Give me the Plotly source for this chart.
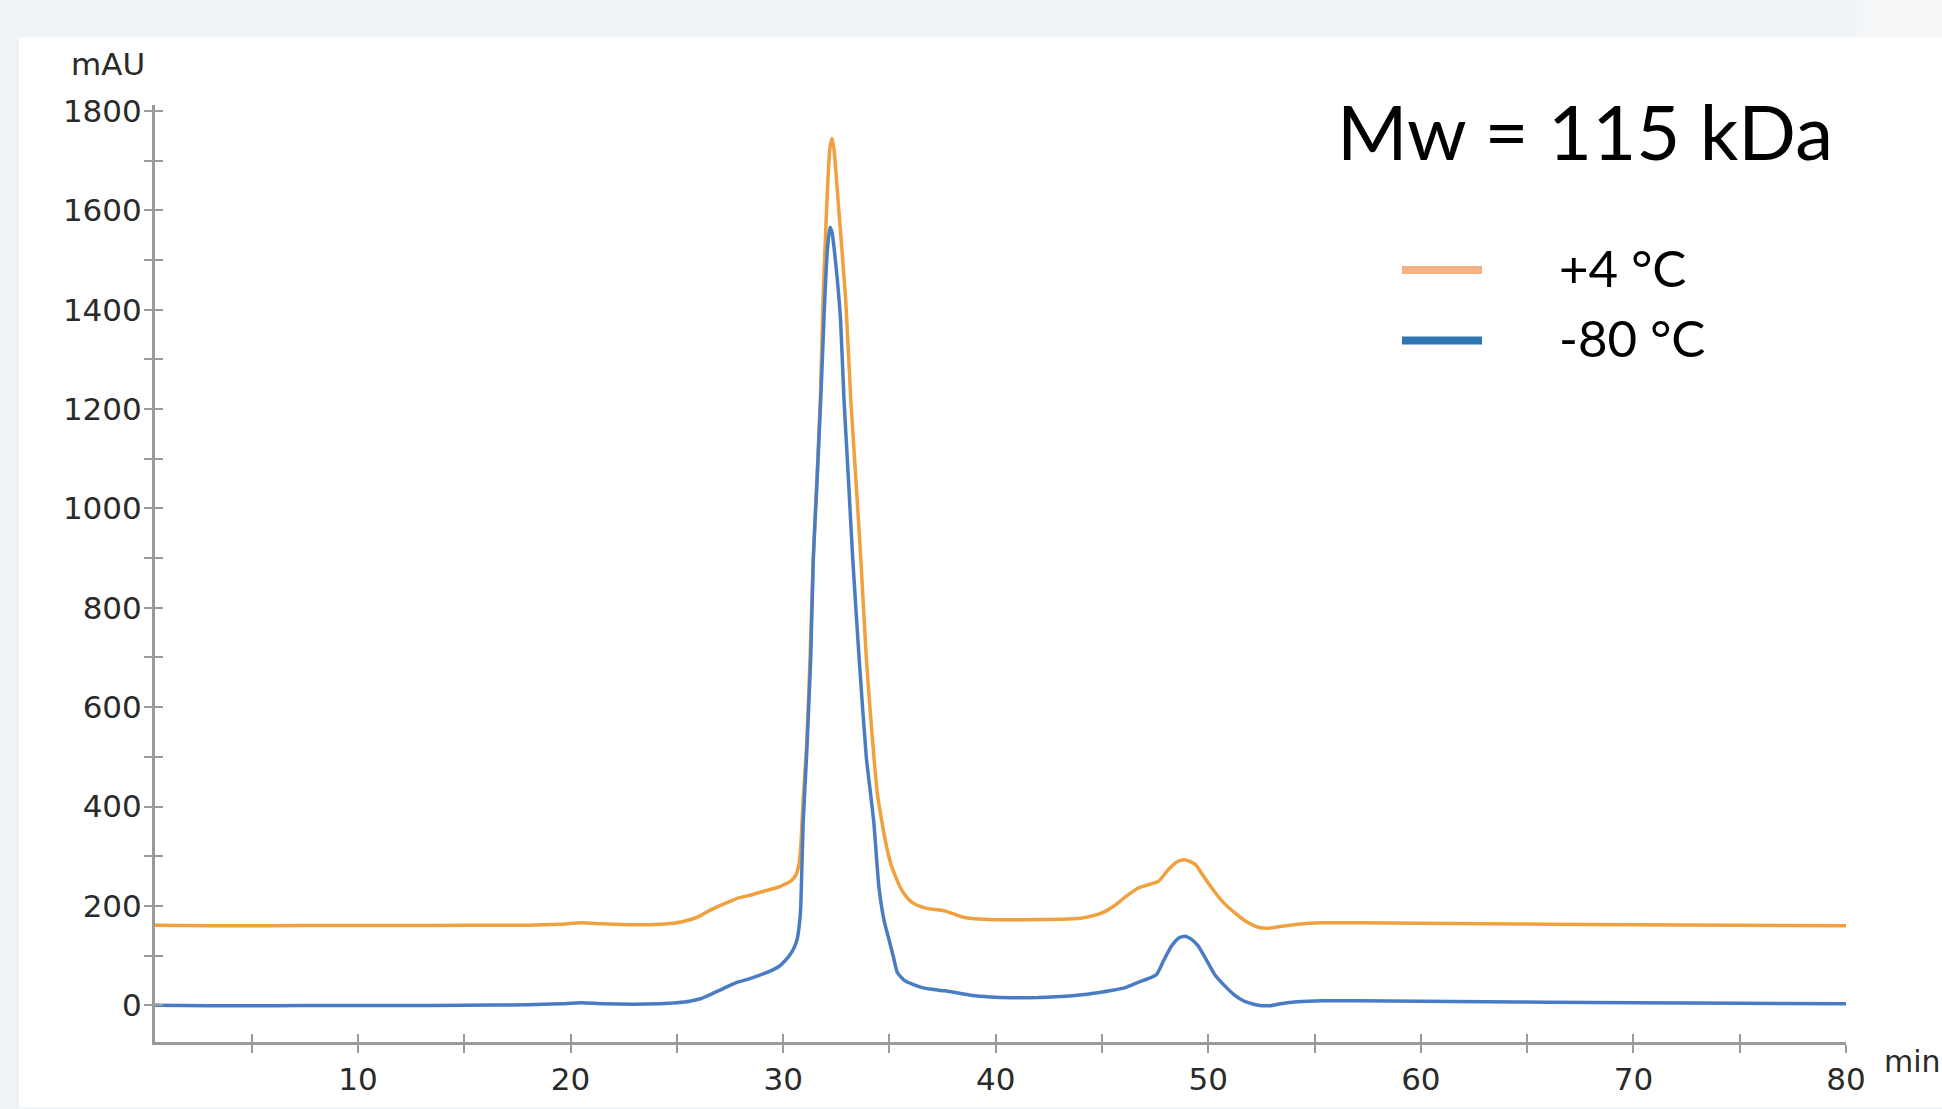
import plotly.graph_objects as go

# ---------------- data ----------------
time_4C = [0.45, 3, 6, 9, 12, 15, 18, 19.5, 20.5, 21.5, 23, 24.2, 25, 25.6, 26.1, 26.6, 27.1, 27.5, 27.9,
           28.4, 28.8, 29.3, 29.8, 30.1, 30.36, 30.6, 30.75, 30.83, 30.95, 31.1, 31.25, 31.42, 31.6,
           31.75, 31.88, 32.0, 32.1, 32.2, 32.3, 32.4, 32.52, 32.7, 32.94, 33.18, 33.42, 33.65, 33.91,
           34.1, 34.27, 34.45, 34.66, 34.86, 35.1, 35.5, 35.8, 36.1, 36.5, 36.9, 37.3, 37.6, 38.2, 38.6,
           39.0, 40, 41, 42, 43, 44, 44.8, 45.2, 45.6, 46.1, 46.7, 47.2, 47.65, 48.1, 48.5, 48.85, 49.1,
           49.4, 49.8, 50.3, 50.8, 51.25, 51.8, 52.35, 52.8, 53.3, 54.2, 55.4, 57, 60, 63, 66, 70, 75, 80]
mau_4C = [161, 160, 160, 160.5, 160.5, 161, 161, 163, 166, 164, 162, 163, 166, 172, 180, 192, 202, 209, 216,
          221, 226, 232, 238, 244, 250, 262, 285, 320, 420, 520, 680, 901, 1070,
          1221, 1422, 1556, 1656, 1725, 1745, 1720, 1656, 1556, 1422, 1221, 1060, 901, 701,
          590, 500, 420, 366, 320, 280, 238, 218, 206, 198, 194, 192, 190, 181, 176,
          174, 172, 172, 172.5, 173, 175, 183, 190, 201, 218, 236, 243, 249, 272, 288, 293, 290,
          283, 258, 228, 203, 186, 168, 157, 155, 158, 163, 166, 166, 165, 164, 163, 162, 161, 160]

time_m80 = [0.45, 3, 6, 9, 12, 15, 18, 19.5, 20.5, 21.5, 23, 24.2, 25, 25.6, 26.1, 26.6, 27.1, 27.5, 27.9,
            28.4, 28.8, 29.3, 29.8, 30.1, 30.28, 30.5, 30.67, 30.78, 30.83, 30.94, 31.1, 31.3, 31.42,
            31.6, 31.77, 31.96, 32.08, 32.2, 32.3, 32.42, 32.55, 32.7, 32.86, 33.07, 33.27, 33.57, 33.91,
            34.1, 34.27, 34.5, 34.75, 34.98, 35.2, 35.37, 35.7, 36.1, 36.5, 37.0, 37.6, 38.3, 39.05,
            40, 41, 42, 42.8, 43.6, 44.3, 44.8, 45.5, 46.1, 46.7, 47.2, 47.57, 47.9, 48.27, 48.6, 48.9,
            49.2, 49.53, 49.9, 50.3, 50.8, 51.25, 51.7, 52.35, 52.9, 53.4, 54.2, 55.4, 57, 60, 63, 66,
            70, 75, 80]
mau_m80 = [0, -1, -1, -0.5, -0.5, 0, 1, 3, 5, 3, 2, 3, 5, 8, 13, 22, 32, 40, 47,
           53, 59, 67, 78, 90, 99, 114, 135, 170, 199, 366, 500, 701, 901,
           1060, 1221, 1422, 1520, 1566, 1556, 1515, 1460, 1380, 1221, 1060, 901, 701, 500,
           430, 366, 240, 170, 132, 95, 66, 50, 42, 36, 32, 29, 24, 19,
           16, 15, 15.5, 17, 19, 22, 25, 30, 35.5, 46, 54, 62, 90, 119, 135, 139,
           133, 119, 92, 62, 38, 20, 8, 0, -1, 3, 7, 9, 9, 8, 7, 6,
           5, 4, 3]

series_names = ["+4 °C", "-80 °C"]
line_colors = ["#F0A03C", "#4A7CC4"]
legend_colors = ["#F4B183", "#2E75B6"]

x_range = [0.45, 80]
y_range = [-74, 1812]
x_ticks = [10, 20, 30, 40, 50, 60, 70, 80]
y_ticks = [0, 200, 400, 600, 800, 1000, 1200, 1400, 1600, 1800]

# ---------------- layout helpers (pixel -> paper) ----------------
W, H = 1942, 1109
L, R, T, B = 155, 96, 105, 61
PW, PH = W - L - R, H - T - B


def px(x):
    return (x - L) / PW


def py(y):
    return (H - B - y) / PH


AXC = "#9A9A9A"
TXT = "#2A2A2A"
FONT = "DejaVu Sans"

fig = go.Figure()
fig.add_trace(go.Scatter(x=time_4C, y=mau_4C, mode="lines", name=series_names[0],
                         line=dict(color=line_colors[0], width=3.5, shape="spline", smoothing=0.5),
                         showlegend=False))
fig.add_trace(go.Scatter(x=time_m80, y=mau_m80, mode="lines", name=series_names[1],
                         line=dict(color=line_colors[1], width=3.5, shape="spline", smoothing=0.5),
                         showlegend=False))
# helper trace so the overlay axes (inner tick halves) are drawn
fig.add_trace(go.Scatter(x=[None], y=[None], xaxis="x2", yaxis="y2", showlegend=False,
                         hoverinfo="skip"))

common_tick = dict(tickcolor=AXC, tickwidth=2, ticklen=8)

fig.update_layout(
    width=W, height=H, autosize=False,
    margin=dict(l=L, r=R, t=T, b=B, pad=0),
    paper_bgcolor="#EEF3F7", plot_bgcolor="rgba(0,0,0,0)",
    font=dict(family=FONT, size=31, color=TXT),
    xaxis=dict(range=x_range, tickvals=x_ticks, ticks="outside", **common_tick,
               showline=True, linecolor=AXC, linewidth=3, showgrid=False, zeroline=False,
               tickfont=dict(family=FONT, size=31, color=TXT),
               minor=dict(dtick=5, tick0=0, ticks="outside", ticklen=8, tickcolor=AXC, tickwidth=2)),
    yaxis=dict(range=y_range, tickvals=y_ticks, ticks="outside", **common_tick,
               showline=True, linecolor=AXC, linewidth=3, showgrid=False, zeroline=False,
               ticklabelstandoff=-4,
               tickfont=dict(family=FONT, size=31, color=TXT),
               minor=dict(dtick=100, tick0=0, ticks="outside", ticklen=8, tickcolor=AXC, tickwidth=2)),
    xaxis2=dict(range=x_range, overlaying="x", anchor="y", side="bottom", tickvals=x_ticks,
                ticks="inside", **common_tick, showticklabels=False, showline=False,
                showgrid=False, zeroline=False,
                minor=dict(dtick=5, tick0=0, ticks="inside", ticklen=8, tickcolor=AXC, tickwidth=2)),
    yaxis2=dict(range=y_range, overlaying="y", anchor="x", side="left", tickvals=y_ticks,
                ticks="inside", **common_tick, showticklabels=False, showline=False,
                showgrid=False, zeroline=False,
                minor=dict(dtick=100, tick0=0, ticks="inside", ticklen=8, tickcolor=AXC, tickwidth=2)),
)

shapes = [
    # white panel
    dict(type="rect", xref="paper", yref="paper", x0=px(19), x1=px(W + 5), y0=py(37), y1=py(H + 5),
         fillcolor="white", line=dict(width=0), layer="below"),
    dict(type="rect", xref="paper", yref="paper", x0=px(1857), x1=px(W + 5), y0=py(-5), y1=py(37),
         fillcolor="#F4F6F8", line=dict(width=0), layer="below"),
]
# legend samples
for i, c in enumerate(legend_colors):
    yc = [271, 342][i]
    shapes.append(dict(type="line", xref="paper", yref="paper", x0=px(1402), x1=px(1482),
                       y0=py(yc), y1=py(yc), line=dict(color=c, width=8)))
fig.update_layout(shapes=shapes)

annotations = [
    dict(text="mAU", x=px(108), y=py(64), xref="paper", yref="paper", showarrow=False,
         xanchor="center", yanchor="middle", font=dict(family=FONT, size=31, color=TXT)),
    dict(text="min", x=px(1882), y=py(1068), xref="paper", yref="paper", showarrow=False,
         xanchor="left", yanchor="middle", font=dict(family=FONT, size=30, color=TXT)),
    dict(text="Mw = 115 kDa", x=px(1585), y=py(131), xref="paper", yref="paper", showarrow=False,
         xanchor="center", yanchor="middle", font=dict(family="Lato", size=76, color="black")),
]
for i, name in enumerate(series_names):
    yc = [269, 339][i]
    annotations.append(dict(text=name, x=px(1557), y=py(yc), xref="paper", yref="paper",
                            showarrow=False, xanchor="left", yanchor="middle",
                            font=dict(family="Lato", size=51, color="black")))
fig.update_layout(annotations=annotations)

fig.write_html("out.html", config={"displayModeBar": False},
               post_script="document.body.style.margin='0';document.body.style.padding='0';")
